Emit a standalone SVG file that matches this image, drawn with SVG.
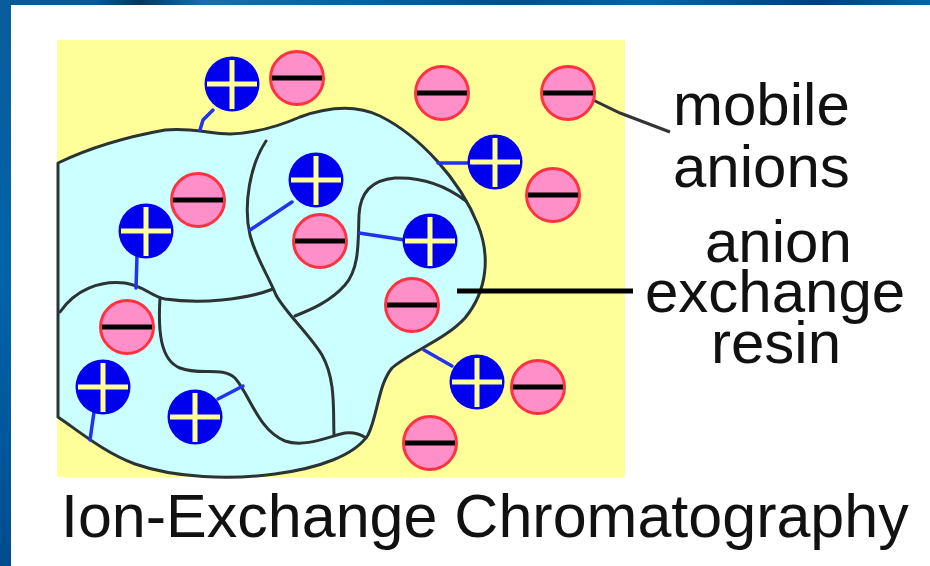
<svg xmlns="http://www.w3.org/2000/svg" width="930" height="566" viewBox="0 0 930 566">
  <defs>
    <linearGradient id="barTop" x1="0" y1="0" x2="1" y2="0">
      <stop offset="0" stop-color="#0a5a9a"/>
      <stop offset="0.1" stop-color="#0b5a96"/>
      <stop offset="0.15" stop-color="#03375e"/>
      <stop offset="0.22" stop-color="#1a6ea8"/>
      <stop offset="0.4" stop-color="#0062a4"/>
      <stop offset="0.55" stop-color="#004f8a"/>
      <stop offset="0.7" stop-color="#0066aa"/>
      <stop offset="0.88" stop-color="#003e78"/>
      <stop offset="1" stop-color="#0066aa"/>
    </linearGradient>
    <linearGradient id="barLeft" x1="0" y1="0" x2="0" y2="1">
      <stop offset="0" stop-color="#0a5c9c"/>
      <stop offset="0.5" stop-color="#0064aa"/>
      <stop offset="1" stop-color="#004c90"/>
    </linearGradient>
    <!-- cation (fixed charge) and anion (mobile) glyphs -->
    <g id="plus">
      <circle r="27.5" fill="#0000ee"/>
      <rect x="-25" y="-2.5" width="50" height="5" fill="#ffff99"/>
      <rect x="-2.5" y="-24" width="5" height="49" fill="#ffff99"/>
    </g>
    <g id="minus">
      <circle r="26.5" fill="#ff8fc8" stroke="#ff3340" stroke-width="3"/>
      <rect x="-25" y="-2.5" width="50" height="5" fill="#000"/>
    </g>
  </defs>
  <style>
    .edge { fill: none; stroke: #2b3333; stroke-width: 3; stroke-linecap: round; stroke-linejoin: round; }
    .tether { fill: none; stroke: #2233ee; stroke-width: 3.5; stroke-linecap: round; }
    .lbl { font-family: "Liberation Sans", Arial, sans-serif; font-size: 60px; fill: #111; }
    .title { font-family: "Liberation Sans", Arial, sans-serif; font-size: 61px; fill: #111; }
  </style>

  <!-- page and frame -->
  <rect width="930" height="566" fill="#ffffff"/>
  <rect x="0" y="0" width="930" height="5" fill="url(#barTop)"/>
  <rect x="0" y="0" width="11" height="566" fill="url(#barLeft)"/>
  <rect x="57" y="40" width="568" height="437" fill="#ffff99"/>

  <!-- resin bead with internal pore walls -->
  <g id="resin">
    <path class="edge" style="fill:#ccffff" d="M 58,163 C 85,150 120,138 165,130 C 190,127 210,134 230,134 C 255,133 275,128 300,117 C 325,108 355,104 380,116 C 420,136 460,180 478,225 C 490,255 488,290 465,318 C 445,340 410,352 392,368 C 378,385 378,415 368,435 C 355,455 320,468 275,474 C 230,480 175,478 135,464 C 105,453 80,432 58,417 Z"/>
    <path class="edge" d="M 60,312 C 75,290 100,280 125,283 C 145,286 150,296 165,299 C 200,304 245,300 273,289"/>
    <path class="edge" d="M 266,141 C 250,165 243,205 250,235 C 256,258 268,275 276,295 C 285,312 310,335 322,355 C 336,380 333,410 334,435"/>
    <path class="edge" d="M 160,298 C 158,330 160,360 180,368 C 200,376 222,366 235,378 C 250,395 258,430 285,441 C 305,448 330,436 345,433 C 354,432 360,434 366,438"/>
    <path class="edge" d="M 466,201 C 445,185 420,177 395,178 C 370,180 360,195 359,215 C 358,240 360,268 345,285 C 330,302 310,310 295,316"/>
  </g>

  <!-- tethers and leader lines -->
  <g id="connectors">
    <polyline class="tether" points="213,110 203,120 200,130"/>
    <line class="tether" x1="292" y1="202" x2="250" y2="230"/>
    <line class="tether" x1="137" y1="256" x2="136" y2="288"/>
    <line class="tether" x1="438" y1="163" x2="470" y2="163"/>
    <line class="tether" x1="359" y1="233" x2="405" y2="240"/>
    <line class="tether" x1="424" y1="350" x2="452" y2="366"/>
    <line class="tether" x1="94" y1="412" x2="90" y2="440"/>
    <line class="tether" x1="218" y1="399" x2="243" y2="386"/>
    <polyline points="593,100 620,113 670,132" fill="none" stroke="#333" stroke-width="3"/>
    <line x1="457" y1="291" x2="633" y2="291" stroke="#000" stroke-width="5"/>
  </g>

  <!-- bound cations -->
  <g id="cations">
    <use href="#plus" x="232" y="84"/>
    <use href="#plus" x="316" y="180"/>
    <use href="#plus" x="146" y="231"/>
    <use href="#plus" x="495" y="162"/>
    <use href="#plus" x="430" y="241"/>
    <use href="#plus" x="477" y="382"/>
    <use href="#plus" x="103" y="387"/>
    <use href="#plus" x="195" y="417"/>
  </g>

  <!-- mobile anions -->
  <g id="anions">
    <use href="#minus" x="297" y="78"/>
    <use href="#minus" x="198" y="200"/>
    <use href="#minus" x="320" y="241"/>
    <use href="#minus" x="442" y="93"/>
    <use href="#minus" x="568" y="93"/>
    <use href="#minus" x="553" y="195"/>
    <use href="#minus" x="412" y="305"/>
    <use href="#minus" x="538" y="387"/>
    <use href="#minus" x="430" y="443"/>
    <use href="#minus" x="127" y="327"/>
  </g>

  <g id="label-mobile-anions">
    <text class="lbl" x="673" y="125">mobile</text>
    <text class="lbl" x="673" y="187">anions</text>
  </g>
  <g id="label-resin">
    <text class="lbl" x="705" y="262">anion</text>
    <text class="lbl" x="645" y="312">exchange</text>
    <text class="lbl" x="711" y="363">resin</text>
  </g>
  <g id="title">
    <text class="title" x="61" y="537">Ion-Exchange Chromatography</text>
  </g>
</svg>
